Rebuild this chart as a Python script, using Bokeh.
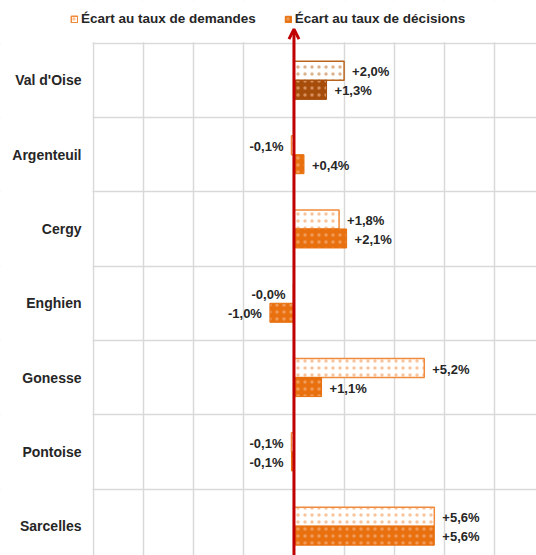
from bokeh.plotting import figure
from bokeh.models import (ColumnDataSource, Range1d, FixedTicker, Arrow, OpenHead,
                          Legend, LegendItem, BoxAnnotation)
from bokeh.core.properties import value
from bokeh.embed import file_html
from bokeh.resources import INLINE

categories = ["Val d'Oise", "Argenteuil", "Cergy", "Enghien", "Gonesse", "Pontoise", "Sarcelles"]
ecart_demandes = [2.0, -0.1, 1.8, -0.02, 5.2, -0.1, 5.6]
ecart_decisions = [1.3, 0.4, 2.1, -0.96, 1.1, -0.1, 5.6]
grid_ticks = [-8, -6, -4, -2, 0, 2, 4, 6, 8]

DEM_LINE = "#F08A3C"
DEM_LINE_HL = "#B8641E"
DEC_FILL = "#E8700E"
DEC_FILL_HL = "#A64D0C"
TXT = "#262626"
GRID = "#D9D9D9"
FONT = "Liberation Sans"

n = len(categories)
pos = [i + 0.5 for i in range(n)]
bar_h = 0.256
x_min = grid_ticks[0]


def fmt(v):
    return f"{v:+.1f}%".replace(".", ",")


def make_src(vals, shift, colors):
    return ColumnDataSource(dict(
        y=[p_ + shift for p_ in pos],
        v=vals,
        c=colors,
        label=[fmt(v) for v in vals],
        align=["left" if v > 0 else "right" for v in vals],
        xo=[8 if v > 0 else -8 for v in vals],
    ))


src_dem = make_src(ecart_demandes, -bar_h / 2, [DEM_LINE_HL] + [DEM_LINE] * (n - 1))
src_dec = make_src(ecart_decisions, bar_h / 2, [DEC_FILL_HL] + [DEC_FILL] * (n - 1))
src_cat = ColumnDataSource(dict(y=pos, name=categories, x=[x_min] * n))

p = figure(width=536, height=555, output_backend="svg", toolbar_location=None,
           x_range=Range1d(-11.711, 9.678), y_range=Range1d(6.895, -0.575),
           x_axis_location=None, y_axis_location=None,
           min_border_left=0, min_border_top=0, min_border_right=0, min_border_bottom=0)
p.outline_line_color = None
p.background_fill_color = "white"

# grids
p.xgrid.ticker = FixedTicker(ticks=grid_ticks)
p.xgrid.grid_line_color = GRID
p.xgrid.grid_line_width = 1.5
p.ygrid.ticker = FixedTicker(ticks=list(range(0, n)))
p.ygrid.grid_line_color = GRID
p.ygrid.grid_line_width = 1.5

# white masks so the grid only covers the plot area
p.add_layout(BoxAnnotation(bottom=-0.012, fill_color="white", fill_alpha=1,
                           line_alpha=0, level="underlay"))
p.add_layout(BoxAnnotation(right=x_min - 0.04, fill_color="white", fill_alpha=1,
                           line_alpha=0, level="underlay"))

r_dem = p.hbar(y="y", left=0, right="v", height=bar_h, source=src_dem,
               fill_color="white", line_color="c", line_width=1.5,
               hatch_pattern="dot", hatch_color="c", hatch_alpha=0.5,
               hatch_scale=7, hatch_weight=0.5)
r_dec = p.hbar(y="y", left=0, right="v", height=bar_h, source=src_dec,
               fill_color="c", line_color="c", line_width=1,
               hatch_pattern="dot", hatch_color="#F6B889", hatch_alpha=0.6,
               hatch_scale=7, hatch_weight=0.5)

for src in (src_dem, src_dec):
    p.text(x="v", y="y", text="label", source=src, text_align="align",
           text_baseline="middle", x_offset="xo", y_offset=1,
           text_font=value(FONT), text_font_size="13px", text_font_style="bold",
           text_color=TXT)

# category labels
p.text(x="x", y="y", text="name", source=src_cat, text_align="right",
       text_baseline="middle", x_offset=-12,
       text_font=value(FONT), text_font_size="14px", text_font_style="bold",
       text_color=TXT)

# red zero axis with arrow
arrow = Arrow(x_start=0, y_start=7.0, x_end=0, y_end=-0.19,
              line_color="#C00000", line_width=3,
              end=OpenHead(size=10, line_color="#C00000", line_width=3))
p.add_layout(arrow)

legend = Legend(items=[
    LegendItem(label="Écart au taux de demandes", renderers=[r_dem], index=1),
    LegendItem(label="Écart au taux de décisions", renderers=[r_dec], index=1),
], orientation="horizontal", glyph_width=8, glyph_height=8, label_height=12,
    label_standoff=3, spacing=28, padding=0, margin=0,
    border_line_color=None, background_fill_alpha=0,
    label_text_font=FONT, label_text_font_size="13.5px", label_text_font_style="bold",
    label_text_color=TXT, location=(70, 529))
p.add_layout(legend)

open("out.html", "w").write(file_html(p, INLINE))
